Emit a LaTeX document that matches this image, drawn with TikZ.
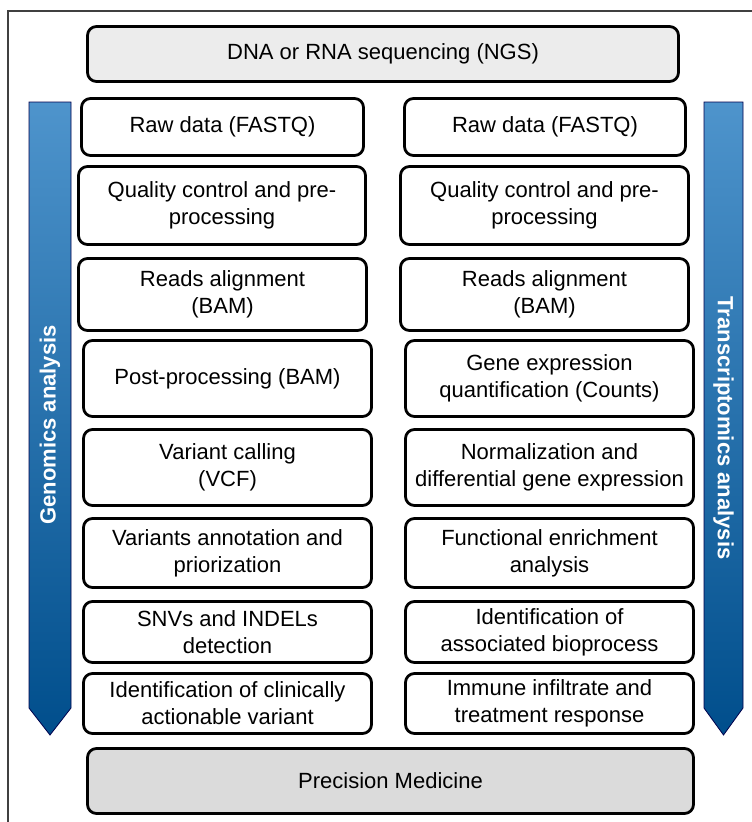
\documentclass[tikz,border=0pt]{standalone}
\usepackage{fontspec}
\setmainfont{Liberation Sans}
\begin{document}
\begin{tikzpicture}[x=1pt,y=1pt,
  stepbox/.style={draw=black, line width=2.8pt, rounded corners=9pt, fill=white,
    align=center, inner sep=2pt, font=\fontsize{22}{27}\selectfont},
  headbox/.style={stepbox, fill=gray!15},
  footbox/.style={stepbox, fill=gray!28},
  band/.style={draw=blue!30!black, line width=0.8pt, top color=bandtop, bottom color=bandbottom},
  bandlabel/.style={text=white, font=\fontsize{22}{26}\selectfont\bfseries}
]
\definecolor{bandtop}{RGB}{78,148,204}
\definecolor{bandbottom}{RGB}{0,78,140}
\useasboundingbox (0,0) rectangle (752,-822);

% outer frame
\draw[line width=1.1pt, black!75] (8,-822) -- (8,-11) -- (752,-11);

% side arrows
\path[band] (29,-102) -- (71,-102) -- (71,-708) -- (50,-735) -- (29,-708) -- cycle;
\path[band] (704,-102) -- (743,-102) -- (743,-708) -- (723.5,-735) -- (704,-708) -- cycle;
\node[bandlabel, rotate=90] (glab) at (50,-425) {Genomics analysis};
\node[bandlabel, rotate=-90] (tlab) at (723.5,-428) {Transcriptomics analysis};

% top and bottom
\node[headbox, minimum width=591pt, minimum height=55pt] (ngs) at (383,-54) {DNA or RNA sequencing (NGS)};
\node[footbox, minimum width=606pt, minimum height=65pt] (pm) at (390.5,-781) {Precision Medicine};

% genomics column
\node[stepbox, minimum width=282pt, minimum height=57pt] (l1) at (222.5,-127) {Raw data (FASTQ)};
\node[stepbox, minimum width=287pt, minimum height=78pt] (l2) at (222,-205.5) {Quality control and pre-\\processing};
\node[stepbox, minimum width=288pt, minimum height=72pt] (l3) at (222.5,-294.5) {Reads alignment\\(BAM)};
\node[stepbox, minimum width=288pt, minimum height=76pt] (l4) at (227.5,-378.5) {Post-processing (BAM)};
\node[stepbox, minimum width=288pt, minimum height=76pt] (l5) at (227.5,-467.5) {Variant calling\\(VCF)};
\node[stepbox, minimum width=288pt, minimum height=69pt] (l6) at (227.5,-553) {Variants annotation and\\priorization};
\node[stepbox, minimum width=288pt, minimum height=61pt] (l7) at (227.5,-632) {SNVs and INDELs\\detection};
\node[stepbox, minimum width=288pt, minimum height=60pt] (l8) at (227.5,-703.5) {Identification of clinically\\actionable variant};

% transcriptomics column
\node[stepbox, minimum width=281pt, minimum height=57pt] (r1) at (545,-127) {Raw data (FASTQ)};
\node[stepbox, minimum width=288pt, minimum height=78pt] (r2) at (544.5,-205.5) {Quality control and pre-\\processing};
\node[stepbox, minimum width=288pt, minimum height=72pt] (r3) at (544.5,-294.5) {Reads alignment\\(BAM)};
\node[stepbox, minimum width=288pt, minimum height=76pt] (r4) at (549.5,-378.5) {Gene expression\\quantification (Counts)};
\node[stepbox, minimum width=288pt, minimum height=76pt] (r5) at (549.5,-467.5) {Normalization and\\differential gene expression};
\node[stepbox, minimum width=288pt, minimum height=69pt] (r6) at (549.5,-553) {Functional enrichment\\analysis};
\node[stepbox, minimum width=288pt, minimum height=61pt] (r7) at (549.5,-632) {Identification of\\associated bioprocess};
\node[stepbox, minimum width=288pt, minimum height=60pt] (r8) at (549.5,-703.5) {Immune infiltrate and\\treatment response};
\end{tikzpicture}
\end{document}
